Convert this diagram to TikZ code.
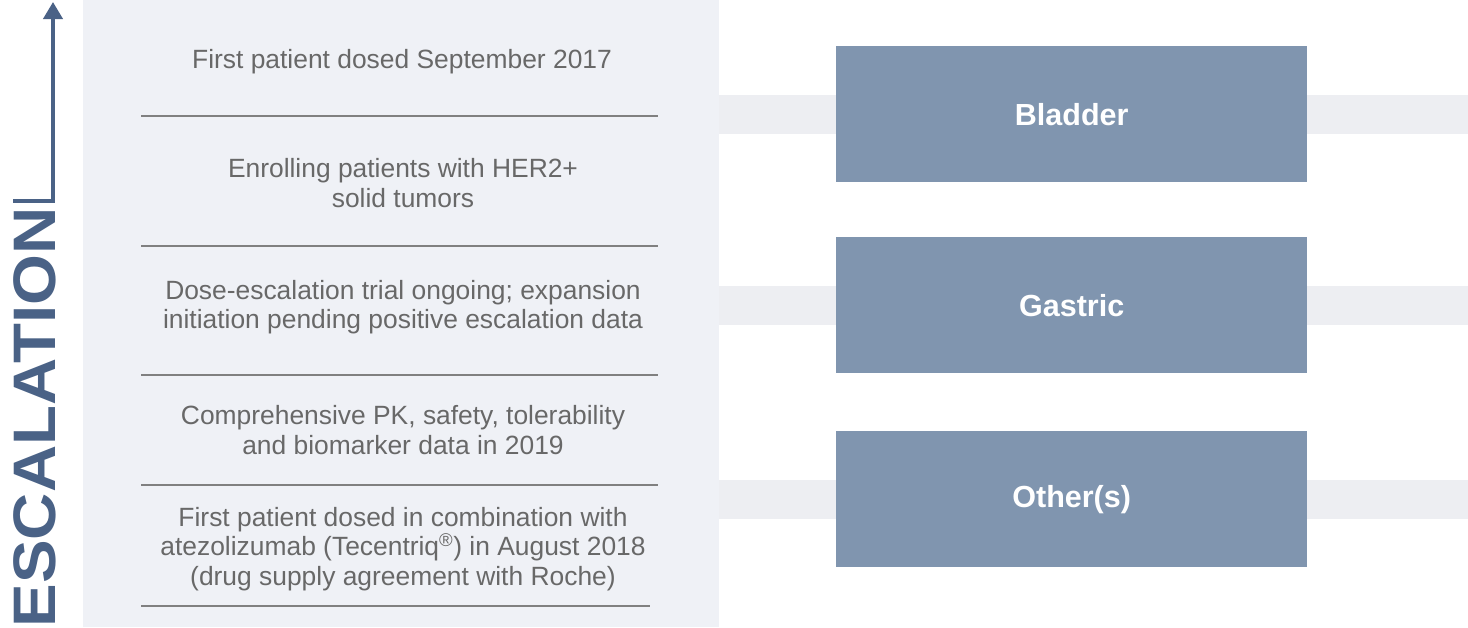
\documentclass[tikz,border=0pt]{standalone}
\usepackage{fontspec}
\setmainfont{Liberation Sans}
\usetikzlibrary{arrows.meta}
\definecolor{panel}{RGB}{239,241,246}
\definecolor{band}{RGB}{237,238,242}
\definecolor{boxc}{RGB}{128,149,175}
\definecolor{arrowc}{RGB}{74,98,134}
\definecolor{txt}{RGB}{104,104,104}
\definecolor{sep}{RGB}{128,128,128}
\begin{document}
\begin{tikzpicture}[x=1pt,y=-1pt,
  info/.style={text=txt,align=center,font=\fontsize{26.4}{29.5}\selectfont,inner sep=0pt},
  tumor/.style={fill=boxc,draw=none,minimum width=471pt,minimum height=136pt,anchor=north west,
    text=white,font=\fontsize{30.5}{34}\selectfont\bfseries},
  sepline/.style={draw=sep,line width=1.6pt},
  bandfill/.style={fill=band,draw=none}]
\useasboundingbox (0,0) rectangle (1468,627);
\fill[white] (0,0) rectangle (1468,627);
% left panel
\fill[panel] (83,0) rectangle (719,627);
% bands
\fill[bandfill] (719,95) rectangle (1468,134);
\fill[bandfill] (719,286) rectangle (1468,325);
\fill[bandfill] (719,480) rectangle (1468,519);
% separators
\draw[sepline] (141,116) -- (658,116);
\draw[sepline] (141,246) -- (658,246);
\draw[sepline] (141,375) -- (658,375);
\draw[sepline] (141,485) -- (658,485);
\draw[sepline] (141,606) -- (650,606);
% texts
\node[info] (t1) at (402,62) {First patient dosed September 2017};
\node[info] (t2) at (403,183) {Enrolling patients with HER2+\\solid tumors};
\node[info] (t3) at (403,307) {Dose-escalation trial ongoing; expansion\\initiation pending positive escalation data};
\node[info] (t4) at (403,430) {Comprehensive PK, safety, tolerability\\and biomarker data in 2019};
\node[info] (t5) at (403,549) {First patient dosed in combination with\\atezolizumab (Tecentriq\textsuperscript{\textregistered}) in August 2018\\(drug supply agreement with Roche)};
% boxes
\node[tumor] (b1) at (836,46) {Bladder};
\node[tumor] (b2) at (836,237) {Gastric};
\node[tumor] (b3) at (836,431) {Other(s)};
% escalation arrow
\coordinate (a0) at (13,201);
\coordinate (a1) at (53,201);
\coordinate (a2) at (53,2);
\draw[arrowc,line width=4pt,-{Triangle[width=19pt,length=17pt]}] (a0) -- (a1) -- (a2);
\node[rotate=90,anchor=base east,text=arrowc,inner sep=0pt,
  font=\fontsize{60}{60}\selectfont\bfseries] (esc) at (55,207) {\scalebox{1.09}[1]{ESCALATION}};
\end{tikzpicture}
\end{document}
